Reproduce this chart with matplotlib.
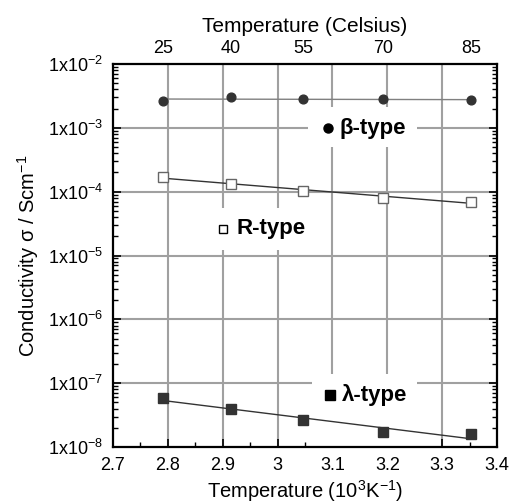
import numpy as np
import matplotlib
matplotlib.use("Agg")
import matplotlib.pyplot as plt
from matplotlib.patches import Rectangle
from matplotlib.ticker import FixedLocator, MultipleLocator, LogLocator, NullFormatter

plt.rcParams['font.family'] = ['Liberation Sans', 'DejaVu Sans']
plt.rcParams['mathtext.fontset'] = 'custom'
plt.rcParams['mathtext.rm'] = 'Liberation Sans'
plt.rcParams['mathtext.it'] = 'Liberation Sans:italic'
plt.rcParams['mathtext.bf'] = 'Liberation Sans:bold'

# Data (x in 10^3/K)
inv_temp = [2.791, 2.915, 3.047, 3.193, 3.353]
top_labels = ["25", "40", "55", "70", "85"]
beta_sigma = [2.63e-3, 3.08e-3, 2.80e-3, 2.80e-3, 2.70e-3]
r_sigma = [1.71e-4, 1.31e-4, 1.03e-4, 8.1e-5, 6.95e-5]
lam_sigma = [5.89e-8, 3.92e-8, 2.63e-8, 1.69e-8, 1.57e-8]
y_decades = [1e-8, 1e-7, 1e-6, 1e-5, 1e-4, 1e-3, 1e-2]
y_labels = [r'1x10$^{-8}$', r'1x10$^{-7}$', r'1x10$^{-6}$', r'1x10$^{-5}$',
            r'1x10$^{-4}$', r'1x10$^{-3}$', r'1x10$^{-2}$']
x_ticks = [2.7, 2.8, 2.9, 3.0, 3.1, 3.2, 3.3, 3.4]
x_labels = ["2.7", "2.8", "2.9", "3", "3.1", "3.2", "3.3", "3.4"]

fig = plt.figure(figsize=(5.12, 5.04), dpi=100)
ax = fig.add_axes([0.2207, 0.1131, 0.75, 0.7599])
ax.set_yscale('log')
ax.set_xlim(2.7, 3.4)
ax.set_ylim(1e-8, 1e-2)

grid_c = '#a0a0a0'
for xv in x_ticks[1:-1]:
    ax.axvline(xv, color=grid_c, lw=1.5, zorder=1)
for yv in y_decades[1:-1]:
    ax.axhline(yv, color=grid_c, lw=1.5, zorder=1)

# white label boxes
boxes = [(3.0555, 10**-3.300, 3.254 - 3.0555, 10**-2.674 - 10**-3.300),
         (2.880, 10**-4.914, 3.059 - 2.880, 10**-4.256 - 10**-4.914),
         (3.063, 1e-8, 3.254 - 3.063, 10**-6.857 - 1e-8)]
for bx, by, bw, bh in boxes:
    ax.add_patch(Rectangle((bx, by), bw, bh, facecolor='white', edgecolor='none', zorder=2))

x = np.array(inv_temp)
xf = np.array([x.min(), x.max()])
for ys, col in [(beta_sigma, '#808080'), (r_sigma, '#333333'), (lam_sigma, '#333333')]:
    p = np.polyfit(x, np.log10(ys), 1)
    ax.plot(xf, 10 ** np.polyval(p, xf), color=col, lw=1.0, zorder=3)

dark = '#333333'
ax.plot(inv_temp, beta_sigma, 'o', ms=6.3, color=dark, mec=dark, zorder=4)
ax.plot(inv_temp, r_sigma, 's', ms=7.2, mfc='white', mec='#666666', mew=1.0, zorder=4)
ax.plot(inv_temp, lam_sigma, 's', ms=6.5, color=dark, mec=dark, zorder=4)

# in-plot labels
lab_fs = 16
ax.plot([3.092], [1e-3], 'o', ms=6.5, color='black', zorder=5)
ax.text(3.112, 10**-3.01, 'β-type', fontsize=lab_fs, fontweight='bold', va='center', ha='left', zorder=5)
ax.plot([2.9005], [10**-4.58], 's', ms=5.5, mfc='white', mec='black', mew=1.0, zorder=5)
ax.text(2.926, 10**-4.58, 'R-type', fontsize=lab_fs, fontweight='bold', va='center', ha='left', zorder=5)
ax.plot([3.096], [10**-7.18], 's', ms=6.5, color='black', zorder=5)
ax.text(3.117, 10**-7.18, 'λ-type', fontsize=lab_fs, fontweight='bold', va='center', ha='left', zorder=5)

ax.yaxis.set_major_locator(FixedLocator(y_decades))
ax.set_yticklabels(y_labels)
ax.yaxis.set_minor_locator(LogLocator(base=10, subs=np.arange(2, 10), numticks=20))
ax.yaxis.set_minor_formatter(NullFormatter())
ax.xaxis.set_major_locator(FixedLocator(x_ticks))
ax.set_xticklabels(x_labels)
ax.xaxis.set_minor_locator(MultipleLocator(0.05))

ax.tick_params(which='major', direction='in', length=6, width=1.2, top=True, right=True,
               labelsize=13, pad=7)
ax.tick_params(which='minor', direction='in', length=3.5, width=1.0, top=True, right=True)
for s in ax.spines.values():
    s.set_linewidth(1.6)

ax.set_xlabel(r'Temperature (10$^{3}$K$^{-1}$)', fontsize=14.5, labelpad=3)
ax.set_ylabel(r'Conductivity σ / Scm$^{-1}$', fontsize=14.5, labelpad=5)

ax2 = ax.twiny()
ax2.set_xlim(ax.get_xlim())
ax2.xaxis.set_major_locator(FixedLocator(inv_temp))
ax2.set_xticklabels(top_labels)
ax2.xaxis.set_minor_locator(FixedLocator([]))
ax2.tick_params(axis='x', length=0, labelsize=13, pad=5)
ax2.set_xlabel('Temperature (Celsius)', fontsize=15, labelpad=6)
for s in ax2.spines.values():
    s.set_visible(False)

fig.savefig('out.png', dpi=100)
